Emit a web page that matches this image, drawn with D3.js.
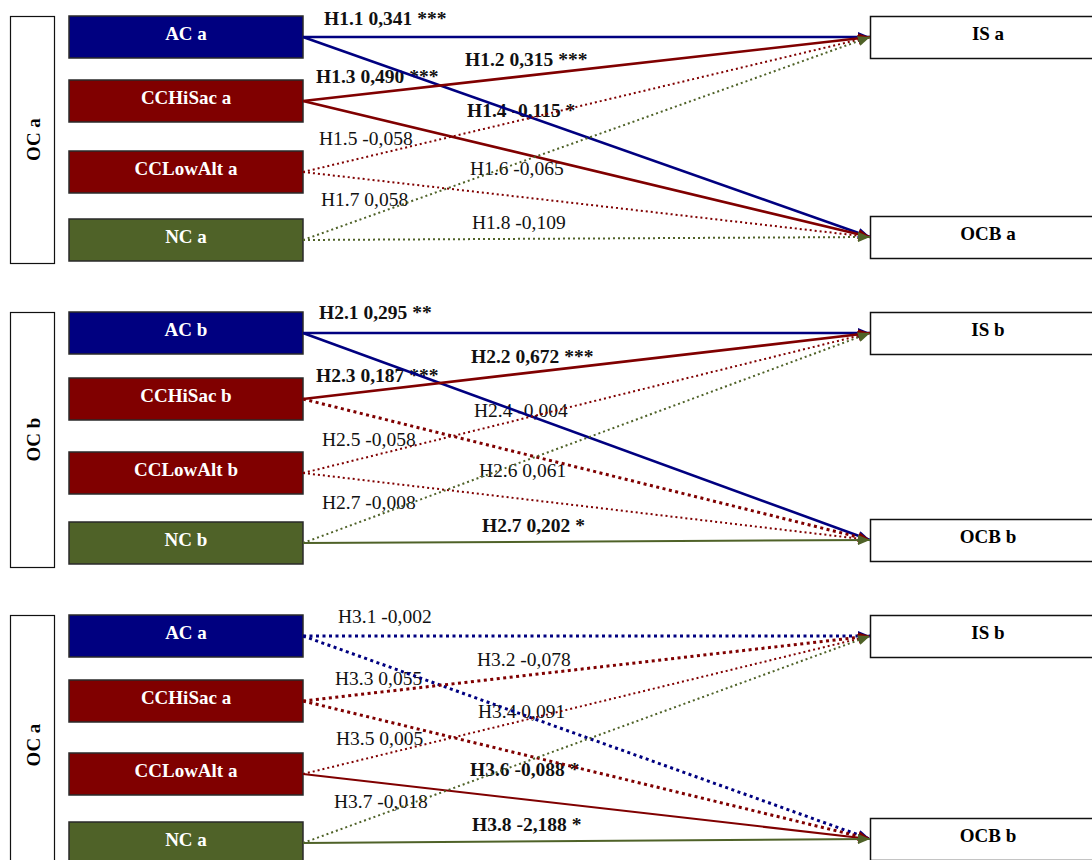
<!DOCTYPE html>
<html lang="en">
<head>
<meta charset="utf-8">
<script src="https://cdn.jsdelivr.net/npm/d3@7"></script>
<style>
  body { margin: 0; background: #fff; }
  svg { display: block; }
  text { font-family: "Liberation Serif", "Times New Roman", serif; }
</style>
</head>
<body>
<script>
// --- data ---
var sources = ["AC", "CCHiSac", "CCLowAlt", "NC"];
var targets = ["IS", "OCB"];
var panelTitles = ["OC a", "OC b", "OC a"];
var sourceSuffix = ["a", "b", "a"];
var targetSuffix = ["a", "b", "b"];

// path order: AC-IS, AC-OCB, CCHiSac-IS, CCHiSac-OCB, CCLowAlt-IS, CCLowAlt-OCB, NC-IS, NC-OCB
var significant = [
  [1, 1, 1, 1, 0, 0, 0, 0],
  [1, 1, 1, 0, 0, 0, 0, 1],
  [0, 0, 0, 0, 0, 1, 0, 1]
];

// hypothesis labels: [name, coefficient, stars]
var labels1 = [["H1.1", "0,341", "***"], ["H1.2", "0,315", "***"], ["H1.3", "0,490", "***"], ["H1.4", "-0,115", "*"],
               ["H1.5", "-0,058", ""], ["H1.6", "-0,065", ""], ["H1.7", "0,058", ""], ["H1.8", "-0,109", ""]];
var labels2 = [["H2.1", "0,295", "**"], ["H2.2", "0,672", "***"], ["H2.3", "0,187", "***"], ["H2.4", "-0,004", ""],
               ["H2.5", "-0,058", ""], ["H2.6", "0,061", ""], ["H2.7", "-0,008", ""], ["H2.7", "0,202", "*"]];
var labels3 = [["H3.1", "-0,002", ""], ["H3.2", "-0,078", ""], ["H3.3", "0,055", ""], ["H3.4", "0,091", ""],
               ["H3.5", "0,005", ""], ["H3.6", "-0,088", "*"], ["H3.7", "-0,018", ""], ["H3.8", "-2,188", "*"]];
var panelLabels = [labels1, labels2, labels3];

// --- layout ---
var w = 1092, h = 860;
var panelTop = [16, 312, 615];
var rowOffsets = [[0, 64, 135, 203], [0, 66, 140, 210], [0, 65, 138, 207]];
var targetOffsets = [[0, 200], [0, 207], [0, 203]];
var ocHeight = [247, 255, 260];
var boxH = 42;
var srcX0 = 69, srcX1 = 303, tgtX = 870;
var labelPos = [
  [[324, 9], [465, 50], [316, 67], [467, 101], [319, 129], [470, 159], [321, 190], [472, 213]],
  [[319, 7], [471, 51], [316, 70], [474, 105], [322, 134], [479, 165], [322, 197], [482, 220]],
  [[338, 8], [477, 51], [335, 70], [478, 103], [336, 130], [470, 161], [334, 193], [472, 216]]
];
// heavier dots for some non-significant paths
var heavyDots = [[], [3], [0, 1, 2, 3]];
var thinSolid = [[], [7], [5, 7]];

var colour = d3.scaleOrdinal()
  .domain(sources)
  .range(["#000080", "#800000", "#800000", "#4f6228"]);

var svg = d3.select("body").append("svg")
  .attr("width", w)
  .attr("height", h);

// arrow markers, one per colour
var defs = svg.append("defs");
["AC", "CCHiSac", "NC"].forEach(function(s) {
  defs.append("marker")
    .attr("id", "arrow-" + s)
    .attr("markerUnits", "userSpaceOnUse")
    .attr("viewBox", "0 0 12 10")
    .attr("refX", 12).attr("refY", 5)
    .attr("markerWidth", 12).attr("markerHeight", 10)
    .attr("orient", "auto")
    .append("path")
    .attr("d", "M0,0 L12,5 L0,10 Z")
    .attr("fill", colour(s));
});
function markerFor(s) { return "url(#arrow-" + (s == "CCLowAlt" ? "CCHiSac" : s) + ")"; }

panelTitles.forEach(function(title, p) {
  var top = panelTop[p];
  var y = d3.scaleOrdinal().domain(sources).range(rowOffsets[p].map(function(o) { return top + o; }));
  var ty = d3.scaleOrdinal().domain(targets).range(targetOffsets[p].map(function(o) { return top + o; }));
  var g = svg.append("g");

  // OC side box
  g.append("rect")
    .attr("x", 10.5).attr("y", top + 0.5)
    .attr("width", 44).attr("height", ocHeight[p])
    .attr("fill", "#fff").attr("stroke", "#111").attr("stroke-width", 1.2);
  g.append("text")
    .attr("transform", "translate(40," + (top + ocHeight[p] / 2) + ") rotate(-90)")
    .attr("text-anchor", "middle")
    .attr("font-size", 19).attr("font-weight", "bold")
    .text(title);

  // source boxes
  sources.forEach(function(s) {
    g.append("rect")
      .attr("x", srcX0).attr("y", y(s))
      .attr("width", srcX1 - srcX0).attr("height", boxH)
      .attr("fill", colour(s)).attr("stroke", "#2a2a2a").attr("stroke-width", 1.5);
    g.append("text")
      .attr("x", (srcX0 + srcX1) / 2).attr("y", y(s) + 24)
      .attr("text-anchor", "middle")
      .attr("font-size", 19).attr("font-weight", "bold")
      .attr("fill", "#fff")
      .text(s + " " + sourceSuffix[p]);
  });

  // target boxes
  targets.forEach(function(t) {
    g.append("rect")
      .attr("x", tgtX + 0.5).attr("y", ty(t) + 0.5)
      .attr("width", 240).attr("height", boxH)
      .attr("fill", "#fff").attr("stroke", "#111").attr("stroke-width", 1.5);
    g.append("text")
      .attr("x", 988).attr("y", ty(t) + 24)
      .attr("text-anchor", "middle")
      .attr("font-size", 19).attr("font-weight", "bold")
      .text(t + " " + targetSuffix[p]);
  });

  // hypothesis labels
  panelLabels[p].forEach(function(l, i) {
    g.append("text")
      .attr("x", labelPos[p][i][0]).attr("y", top + labelPos[p][i][1])
      .attr("font-size", 19.5)
      .attr("font-weight", l[2] ? "bold" : "normal")
      .attr("fill", "#111")
      .text(l[0] + " " + l[1] + (l[2] ? " " + l[2] : ""));
  });

  // paths
  var paths = [];
  sources.forEach(function(s) {
    targets.forEach(function(t) { paths.push({ s: s, t: t }); });
  });
  paths.forEach(function(d, i) {
    var sig = significant[p][i];
    var heavy = heavyDots[p].indexOf(i) >= 0;
    var line = g.append("line")
      .attr("x1", srcX1).attr("y1", y(d.s) + boxH / 2)
      .attr("x2", tgtX).attr("y2", ty(d.t) + boxH / 2)
      .attr("stroke", colour(d.s))
      .attr("marker-end", markerFor(d.s));
    if (sig) {
      line.attr("stroke-width", thinSolid[p].indexOf(i) >= 0 ? 2 : 2.6);
    } else if (heavy) {
      line.attr("stroke-width", 3).attr("stroke-dasharray", "3,3.5");
    } else {
      line.attr("stroke-width", 2).attr("stroke-dasharray", "2,3");
    }
  });
});
</script>
</body>
</html>
